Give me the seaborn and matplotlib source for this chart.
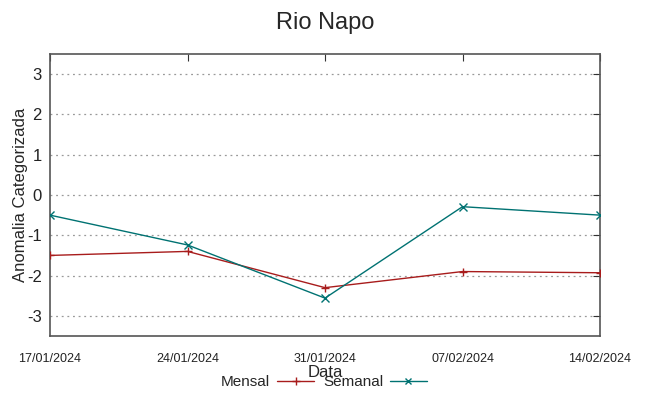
import matplotlib
matplotlib.use("Agg")
import matplotlib.pyplot as plt
import seaborn as sns
import pandas as pd
from matplotlib.lines import Line2D

dates = ["2024-01-17", "2024-01-24", "2024-01-31", "2024-02-07", "2024-02-14"]
tick_labels = ["17/01/2024", "24/01/2024", "31/01/2024", "07/02/2024", "14/02/2024"]
mensal = [-1.5, -1.4, -2.3, -1.9, -1.93]
semanal = [-0.5, -1.24, -2.56, -0.29, -0.5]
y_ticks = [-3, -2, -1, 0, 1, 2, 3]

sns.set_style("white")
plt.rcParams['font.family'] = ['Liberation Sans', 'DejaVu Sans']

df = pd.DataFrame({
    "Data": pd.to_datetime(dates).tolist() * 2,
    "valor": mensal + semanal,
    "serie": ["Mensal"] * len(mensal) + ["Semanal"] * len(semanal),
})

fig = plt.figure(figsize=(6.49, 3.96), dpi=100)
ax = fig.add_axes([50/649, 1-336/396, 550/649, 282/396])

palette = {"Mensal": "#a81c1c", "Semanal": "#007272"}
sns.lineplot(data=df, x="Data", y="valor", hue="serie", style="serie",
             markers={"Mensal": "+", "Semanal": "x"}, dashes=False,
             palette=palette, ax=ax, linewidth=1.0, markersize=6,
             markeredgewidth=1.0, legend=False)
for ln in ax.get_lines():
    ln.set_markeredgecolor(ln.get_color())
    ln.set_zorder(3)

ax.set_ylim(-3.5, 3.5)
ax.set_xlim(pd.Timestamp(dates[0]), pd.Timestamp(dates[-1]))
ax.set_yticks(y_ticks)
ax.set_yticklabels([str(v) for v in y_ticks], fontsize=12)
ax.set_xticks(pd.to_datetime(dates))
ax.set_xticklabels(tick_labels, fontsize=9)
ax.tick_params(axis='both', direction='in', length=5, color='#333333',
               top=True, right=True, colors='#333333', labelcolor='#222222')
ax.tick_params(axis='x', pad=12)
ax.tick_params(axis='y', pad=6)
for s in ax.spines.values():
    s.set_color('#555555')
    s.set_linewidth(1.2)
ax.yaxis.grid(True, linestyle=(0, (1.5, 3)), color='#999999', linewidth=0.9)
ax.xaxis.grid(False)
ax.set_axisbelow(True)

ax.set_ylabel("Anomalia Categorizada", fontsize=12, labelpad=-1)
ax.set_xlabel("Data", fontsize=12, labelpad=0)
ax.set_title("Rio Napo", fontsize=17, pad=18)

handles = [Line2D([], [], color=palette["Mensal"], marker="+", markersize=6, lw=1.0),
           Line2D([], [], color=palette["Semanal"], marker="x", markersize=5, lw=1.0)]
leg = fig.legend(handles, ["Mensal", "Semanal"], loc="center", bbox_to_anchor=(324/649, 1-382/396),
                 ncol=2, frameon=False, fontsize=11, markerfirst=False,
                 handlelength=2.4, columnspacing=0.6, handletextpad=0.45)

fig.savefig("out.png", dpi=100)
